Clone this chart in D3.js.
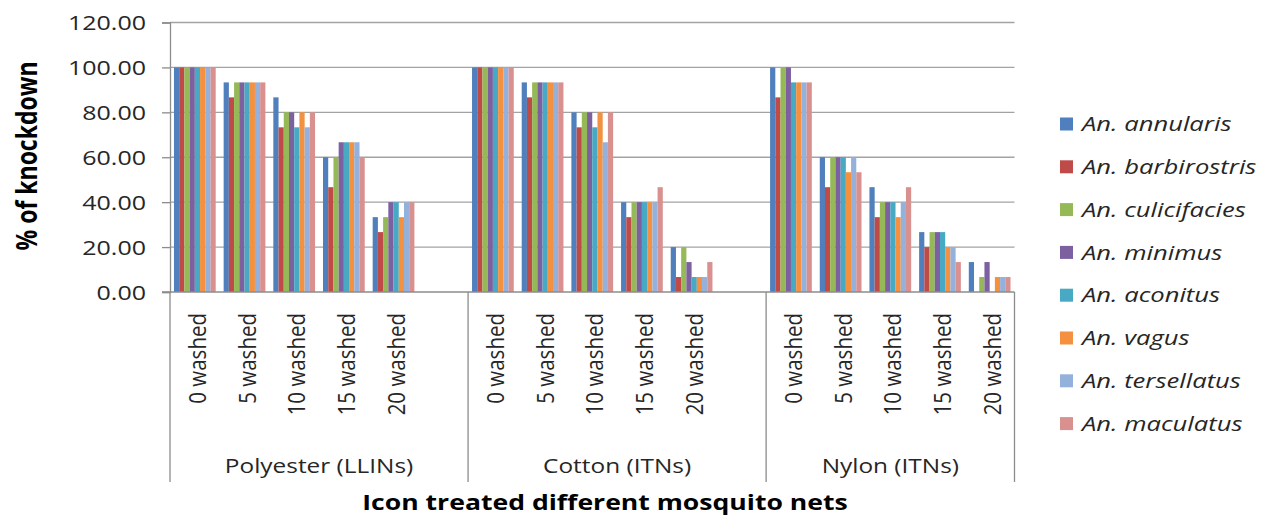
<!DOCTYPE html>
<html>
<head>
<meta charset="utf-8">
<script src="https://cdn.jsdelivr.net/npm/d3@7"></script>
<style>
  html, body { margin: 0; padding: 0; background: #fff; }
  svg { display: block; }
  text { font-family: "Open Sans", "Liberation Sans", sans-serif; fill: #262626; }
</style>
</head>
<body>
<svg id="chart" width="1261" height="517"></svg>
<script>
// Knockdown (%) of eight Anopheles species on insecticide treated nets after washing
const nets = ["Polyester (LLINs)", "Cotton (ITNs)", "Nylon (ITNs)"];
const washes = ["0 washed", "5 washed", "10 washed", "15 washed", "20 washed"];
const species = ["An. annularis", "An. barbirostris", "An. culicifacies", "An. minimus",
                 "An. aconitus", "An. vagus", "An. tersellatus", "An. maculatus"];
const colors = ["#4f7fbc", "#bf4b48", "#96b957", "#7c60a0", "#47a9c4", "#f39140", "#94b1dc", "#d9918f"];
const yTicks = [0, 20, 40, 60, 80, 100, 120];

// values per species: Polyester 0..20 washes, Cotton 0..20, Nylon 0..20
const annularis     = [100, 93.33, 86.67, 60.00, 33.33,  100, 93.33, 80.00, 40.00, 20.00,  100.00, 60.00, 46.67, 26.67, 13.33];
const barbirostris  = [100, 86.67, 73.33, 46.67, 26.67,  100, 86.67, 73.33, 33.33,  6.67,   86.67, 46.67, 33.33, 20.00,  0.00];
const culicifacies  = [100, 93.33, 80.00, 60.00, 33.33,  100, 93.33, 80.00, 40.00, 20.00,  100.00, 60.00, 40.00, 26.67,  6.67];
const minimus       = [100, 93.33, 80.00, 66.67, 40.00,  100, 93.33, 80.00, 40.00, 13.33,  100.00, 60.00, 40.00, 26.67, 13.33];
const aconitus      = [100, 93.33, 73.33, 66.67, 40.00,  100, 93.33, 73.33, 40.00,  6.67,   93.33, 60.00, 40.00, 26.67,  0.00];
const vagus         = [100, 93.33, 80.00, 66.67, 33.33,  100, 93.33, 80.00, 40.00,  6.67,   93.33, 53.33, 33.33, 20.00,  6.67];
const tersellatus   = [100, 93.33, 73.33, 66.67, 40.00,  100, 93.33, 66.67, 40.00,  6.67,   93.33, 60.00, 40.00, 20.00,  6.67];
const maculatus     = [100, 93.33, 80.00, 60.00, 40.00,  100, 93.33, 80.00, 46.67, 13.33,   93.33, 53.33, 46.67, 13.33,  6.67];
const seriesValues = [annularis, barbirostris, culicifacies, minimus, aconitus, vagus, tersellatus, maculatus];

// ---- layout ----
const plot = { left: 170, right: 1014.5, top: 22.5, bottom: 292 };
const SX = 1.22;           // horizontal text stretch
const gridColor = "#a3a3a3";
const axisColor = "#8c8c8c";

const svg = d3.select("#chart");

// category slots: each net gets its five wash levels, with an empty slot after the first two nets
const slots = [];
nets.forEach((n, i) => {
  washes.forEach(w => slots.push({ key: n + "|" + w, net: n, wash: w }));
  if (i < nets.length - 1) slots.push({ key: n + "|", net: n, wash: null });
});

const x0 = d3.scaleBand()
  .domain(slots.map(s => s.key))
  .range([plot.left, plot.right])
  .paddingInner(0.16)
  .paddingOuter(0.08);

const x1 = d3.scaleBand()
  .domain(species)
  .range([0, x0.bandwidth()]);

const y = d3.scaleLinear().domain([0, 120]).range([plot.bottom, plot.top]);

// gridlines
svg.append("g")
  .selectAll("line")
  .data(yTicks.filter(t => t > 0))
  .join("line")
  .attr("x1", plot.left).attr("x2", plot.right)
  .attr("y1", d => y(d)).attr("y2", d => y(d))
  .attr("stroke", gridColor).attr("stroke-width", 1.3);

// bars
const rows = [];
nets.forEach((n, ni) => washes.forEach((w, wi) => {
  species.forEach((sp, si) => {
    rows.push({ key: n + "|" + w, sp, color: colors[si], value: seriesValues[si][ni * washes.length + wi] });
  });
}));

svg.append("g")
  .selectAll("rect")
  .data(rows.filter(r => r.value > 0))
  .join("rect")
  .attr("x", d => x0(d.key) + x1(d.sp))
  .attr("width", x1.bandwidth())
  .attr("y", d => y(d.value))
  .attr("height", d => y(0) - y(d.value))
  .attr("fill", d => d.color);

// y axis
const yAxis = svg.append("g").attr("transform", `translate(${plot.left},0)`)
  .call(d3.axisLeft(y).tickValues(yTicks).tickSize(8).tickPadding(0).tickFormat(d3.format(".2f")));
yAxis.select(".domain").attr("stroke", axisColor).attr("stroke-width", 1.3);
yAxis.selectAll(".tick line").attr("stroke", axisColor).attr("stroke-width", 1.3);
yAxis.selectAll(".tick text").remove();
yAxis.selectAll(".tick").append("text")
  .attr("transform", `translate(-24,0) scale(${SX},1)`)
  .attr("text-anchor", "end")
  .attr("dy", "0.36em")
  .style("font-size", "20.5px")
  .style("fill", "#262626")
  .text(d => d3.format(".2f")(d));

// x baseline
svg.append("line")
  .attr("x1", plot.left - 8).attr("x2", plot.right)
  .attr("y1", plot.bottom).attr("y2", plot.bottom)
  .attr("stroke", axisColor).attr("stroke-width", 1.3);

// net group boundaries
const half = (x0.step() - x0.bandwidth()) / 2;
const bounds = nets.map(n => x0(n + "|" + washes[0]) - half);
bounds[0] = plot.left;
bounds.push(plot.right);
const sepBottom = 482;

svg.append("g")
  .selectAll("line")
  .data(bounds)
  .join("line")
  .attr("x1", d => d).attr("x2", d => d)
  .attr("y1", plot.bottom).attr("y2", sepBottom)
  .attr("stroke", axisColor).attr("stroke-width", 1.3);

// wash level labels (rotated)
svg.append("g")
  .selectAll("text")
  .data(slots.filter(s => s.wash))
  .join("text")
  .attr("transform", d => `translate(${x0(d.key) + x0.bandwidth() / 2 + 3},${plot.bottom + 21}) scale(1.12,1) rotate(-90)`)
  .attr("text-anchor", "end")
  .attr("dy", "0.35em")
  .style("font-size", "20.5px")
  .text(d => d.wash);

// net group labels
svg.append("g")
  .selectAll("text")
  .data(nets)
  .join("text")
  .attr("transform", (d, i) => `translate(${(bounds[i] + bounds[i + 1]) / 2},473) scale(${SX},1)`)
  .attr("text-anchor", "middle")
  .style("font-size", "20px")
  .text(d => d);

// axis titles
svg.append("text")
  .attr("transform", `translate(37,156) scale(${SX},1) rotate(-90)`)
  .attr("text-anchor", "middle")
  .style("font-size", "23px")
  .style("font-weight", "bold")
  .style("fill", "#000")
  .text("% of knockdown");

svg.append("text")
  .attr("transform", `translate(605,510) scale(${SX},1)`)
  .attr("text-anchor", "middle")
  .style("font-size", "21.8px")
  .style("font-weight", "bold")
  .style("fill", "#000")
  .text("Icon treated different mosquito nets");

// legend
const legend = svg.append("g").attr("transform", "translate(1060,124)");
const item = legend.selectAll("g")
  .data(species)
  .join("g")
  .attr("transform", (d, i) => `translate(0,${i * 42.8})`);
item.append("rect")
  .attr("x", 0).attr("y", -6.5)
  .attr("width", 13).attr("height", 13)
  .attr("fill", (d, i) => colors[i]);
item.append("text")
  .attr("transform", "translate(22,0) scale(1.28,1)")
  .attr("dy", "0.36em")
  .style("font-size", "20px")
  .style("font-style", "italic")
  .text(d => d);
</script>
</body>
</html>
